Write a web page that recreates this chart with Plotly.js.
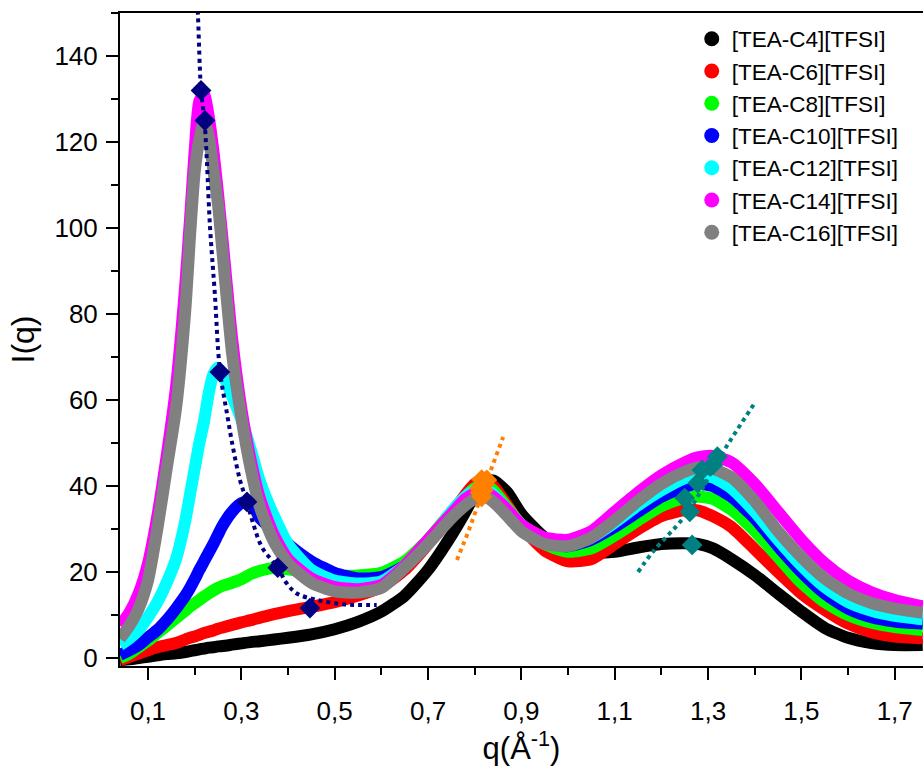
<!DOCTYPE html>
<html><head><meta charset="utf-8">
<script src="https://cdn.plot.ly/plotly-3.0.1.min.js"></script>
<style>html,body{margin:0;padding:0;background:#fff}#chart{width:923px;height:774px}</style>
</head><body><div id="chart"></div>
<script>
// q values (Å^-1) shared by all series
const qValues = [0.04,0.06,0.08,0.10,0.12,0.14,0.16,0.18,0.19,0.20,0.21,0.22,0.23,0.24,0.25,0.26,0.28,0.30,0.32,0.34,0.37,0.40,0.45,0.50,0.55,0.60,0.65,0.70,0.75,0.78,0.80,0.82,0.84,0.87,0.90,0.95,1.00,1.05,1.10,1.15,1.20,1.25,1.28,1.31,1.35,1.40,1.45,1.50,1.55,1.60,1.65,1.70,1.76];

const iC4  = [-0.5,-0.3,0,0.3,0.6,0.9,1.1,1.4,1.6,1.8,2,2.2,2.4,2.5,2.7,2.8,3.1,3.4,3.7,3.9,4.3,4.7,5.5,6.7,8.4,10.8,14.5,20.5,28.5,34,38,41,41.3,38.5,33.5,28,25.5,24.5,24.7,25.7,26.5,26.7,26.5,25.5,23,19.3,15,10.8,7,4.7,3.5,3,3];
const iC6  = [-0.5,0.3,1,1.8,2.5,3,3.5,4.3,4.7,5,5.4,5.8,6.1,6.4,6.8,7.1,7.7,8.3,8.8,9.4,10.2,10.9,11.9,13,14.5,16.5,20.5,26.5,33.5,38,40.5,41.5,40,35.5,30.5,25,22.5,23,26.5,30,33,34.4,34.3,33,30.5,25.3,20,15,11.2,8,6,5,4.6];
const iC8  = [0,1,2.5,4,5.8,7.5,9.3,11,12,12.7,13.5,14.3,15,15.7,16.3,16.8,17.5,18.3,19.5,20.3,20.9,20.6,19.7,19.2,19.2,19.8,22.5,27.5,34,37.5,39.5,40.3,39,35,31,26.5,24.7,25.5,28.5,32,35.3,37.3,37.5,37,34.5,29.5,23.5,17.5,13,10,8.2,7.2,6.5];
const iC10 = [0.7,1.8,3,4.8,6.5,8.8,11.5,14.5,16.3,18.3,20.5,22.5,24.5,26.5,28.7,30.8,34,36,36.3,32.5,29.5,26.5,22.5,19.8,18.5,18.8,21.5,27,33.5,37,38.5,39,37.5,34,30.5,27,26,27.5,30.5,34,37.5,39.8,40.5,40,37.5,32.5,26,20,15,11.5,9.5,8.5,8];
const iC12 = [3,4.5,6.5,9.5,13,17.5,23,32,38,44,50,55,61.5,66,67.5,66,61,55.5,48.5,41,33,26.5,20.5,18,17.3,17.8,21.5,27,34,37.5,39,39.5,38,34.5,31,27.5,26.5,28,31.5,35.5,39,41.8,42.5,42,39.5,34,27.5,21.5,16.5,13,11,9.8,9];
const iC14 = [7.5,10.5,15,22,33,47,63,87,102,118,129.5,131,126,118,108,97,74.5,58,46,37,28.5,23,18.5,16.5,16,17,21.5,27.5,33.5,37,38.3,38.6,37.5,34.5,31,28,27.5,29.5,34,38.5,42.5,45.5,46.7,47,45.5,40.5,34,27.5,22,18,15.3,13.5,12];
const iC16 = [4.5,7.5,11.5,18,30,44,58,81,98,113,120.5,124.8,121.5,113.5,105.5,94,71,56,44,35,27,22,17.5,15.5,15.2,16.3,21,26.5,32.5,35.5,37,37.6,36.3,33,29.5,26.5,26,28,32,36.5,40.5,43.3,44.3,44,42,36.5,29.5,23.5,18.5,15,12.8,11.5,10.5];

const seriesNames  = ['[TEA-C4][TFSI]','[TEA-C6][TFSI]','[TEA-C8][TFSI]','[TEA-C10][TFSI]','[TEA-C12][TFSI]','[TEA-C14][TFSI]','[TEA-C16][TFSI]'];
const seriesColors = ['#000000','#ff0000','#00ff00','#0000ff','#00ffff','#ff00ff','#808080'];
const seriesValues = [iC4,iC6,iC8,iC10,iC12,iC14,iC16];

// low-q peak guide (navy)
const lowGuideQ = [0.203,0.207,0.211,0.2136,0.221,0.226,0.233,0.243,0.254,0.269,0.282,0.297,0.312,0.325,0.344,0.378,0.397,0.419,0.462,0.518,0.59];
const lowGuideI = [158,149.5,137.5,132,125,115.8,100,85,67,57,49,41.4,36.3,31.4,25.8,21,17.4,15,13.5,12.5,12.3];
const lowPeakQ = [0.2136,0.222,0.254,0.312,0.378,0.447];
const lowPeakI = [132,125,66.5,36.3,21,11.6];

// mid peak guide (orange)
const midGuideQ = [0.762,0.785,0.81,0.835,0.861];
const midGuideI = [22.8,29,36.5,44,51.4];
const midPeakQ = [0.826,0.815,0.82,0.818,0.81,0.812,0.815];
const midPeakI = [41.4,41.5,40.3,39,39.5,38.5,37.5];

// high-q peak guide (teal)
const highGuideQ = [1.15,1.182,1.255,1.326,1.362,1.40];
const highGuideI = [20,24.7,33.7,46.8,53,59.3];
const highPeakQ = [1.266,1.261,1.25,1.278,1.287,1.31,1.32];
const highPeakI = [26.3,34,37.2,40.7,43.7,44.9,46.8];

const traces = [];
seriesValues.forEach((vals, k) => {
  traces.push({x: qValues, y: vals, type: 'scatter', mode: 'lines',
    line: {color: seriesColors[k], width: 12, shape: 'spline', smoothing: 0.6},
    showlegend: false, hoverinfo: 'skip'});
});
seriesValues.forEach((vals, k) => {
  traces.push({x: [null], y: [null], type: 'scatter', mode: 'markers', name: seriesNames[k],
    marker: {color: seriesColors[k], size: 15}, showlegend: true});
});
traces.push({x: lowGuideQ, y: lowGuideI, mode: 'lines', line: {color: '#000080', width: 4, dash: '4px,4px', shape: 'spline'}, showlegend: false});
traces.push({x: midGuideQ, y: midGuideI, mode: 'lines', line: {color: '#ff8000', width: 4, dash: '4px,4px'}, showlegend: false});
traces.push({x: highGuideQ, y: highGuideI, mode: 'lines', line: {color: '#008080', width: 4, dash: '4px,4px', shape: 'spline'}, showlegend: false});
traces.push({x: lowPeakQ, y: lowPeakI, mode: 'markers', marker: {symbol: 'diamond', color: '#000080', size: 16}, showlegend: false});
traces.push({x: midPeakQ, y: midPeakI, mode: 'markers', marker: {symbol: 'diamond', color: '#ff8000', size: 16}, showlegend: false});
traces.push({x: highPeakQ, y: highPeakI, mode: 'markers', marker: {symbol: 'diamond', color: '#008080', size: 16}, showlegend: false});

const fontFam = '"Liberation Sans", Arial, sans-serif';
const layout = {
  width: 923, height: 774,
  margin: {l: 120, r: 0, t: 13, b: 108},
  paper_bgcolor: '#fff', plot_bgcolor: '#fff',
  separators: ', ',
  font: {family: fontFam, color: '#000', size: 26},
  showlegend: true,
  legend: {x: 0.712, xanchor: 'left', y: 0.993, yanchor: 'top', bgcolor: 'rgba(0,0,0,0)',
    font: {family: fontFam, size: 22.5, color: '#000'}, tracegroupgap: 0},
  xaxis: {
    range: [0.04, 1.7606], showgrid: false, zeroline: false,
    showline: true, linecolor: '#000', linewidth: 2, mirror: true,
    ticks: 'outside', ticklen: 12, tickwidth: 2, tickcolor: '#000',
    tick0: 0.1, dtick: 0.2, tickformat: '.1f', ticklabelstandoff: 9,
    tickfont: {family: fontFam, size: 26, color: '#000'},
    minor: {dtick: 0.1, tick0: 0, ticks: 'outside', ticklen: 7, tickwidth: 2, tickcolor: '#000', showgrid: false},
    title: {text: 'q(Å<sup>-1</sup>)', font: {family: fontFam, size: 31}, standoff: 5}
  },
  yaxis: {
    range: [-1.86, 150], showgrid: false, zeroline: false,
    showline: true, linecolor: '#000', linewidth: 2, mirror: false,
    ticks: 'outside', ticklen: 12, tickwidth: 2, tickcolor: '#000',
    tick0: 0, dtick: 20, ticklabelstandoff: 3,
    tickfont: {family: fontFam, size: 26, color: '#000'},
    minor: {dtick: 10, tick0: 0, ticks: 'outside', ticklen: 7, tickwidth: 2, tickcolor: '#000', showgrid: false},
    title: {text: 'I(q)', font: {family: fontFam, size: 32}, standoff: 10}
  }
};
Plotly.newPlot('chart', traces, layout, {displayModeBar: false, staticPlot: true});
</script>
</body></html>
